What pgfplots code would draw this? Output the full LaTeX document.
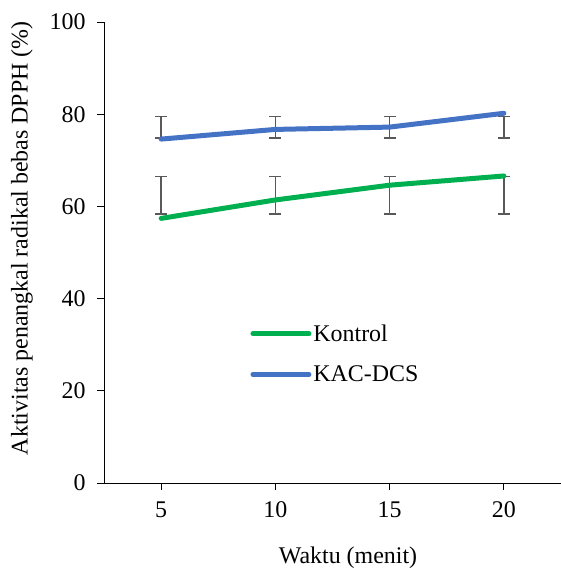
\documentclass[border=0pt]{standalone}
\usepackage{fontspec}
\setmainfont{Liberation Serif}
\usepackage{pgfplots}
\pgfplotsset{compat=1.18}
\definecolor{kgreen}{HTML}{00B050}
\definecolor{kblue}{HTML}{4472C4}
\definecolor{ebar}{HTML}{595959}
\begin{document}
\begin{tikzpicture}
\useasboundingbox (-104bp,-85bp) rectangle (457bp,483bp);
\begin{axis}[
  at={(0,0)}, anchor=south west,
  scale only axis,
  width=457bp, height=461bp,
  xmin=-0.5, xmax=3.5,
  ymin=0, ymax=100,
  xtick={0,1,2,3},
  xticklabels={5,10,15,20},
  ytick={0,20,40,60,80,100},
  axis x line*=bottom,
  axis y line*=left,
  axis line style={black, line width=0.9bp, -},
  tick style={black, line width=0.9bp},
  tick align=outside,
  major tick length=7bp,
  /pgf/number format/assume math mode=true,
  font=\fontsize{24}{28}\selectfont,
  ticklabel style={font=\fontsize{24}{28}\selectfont},
  xticklabel style={anchor=base, yshift=-27bp},
  yticklabel style={anchor=east, xshift=-8bp},
  xlabel={Waktu (menit)},
  ylabel={Aktivitas penangkal radikal bebas DPPH (\%)},
  xlabel style={at={(axis description cs:0.534,0)}, anchor=base, yshift=-80bp, font=\fontsize{24}{28}\selectfont},
  ylabel style={at={(axis description cs:-0.1794,0.531)}, anchor=center, rotate=0, font=\fontsize{24}{28}\selectfont},
  clip=false,
  legend cell align=left,
  legend style={at={(axis description cs:0.32,0.348)}, anchor=north west, draw=none, fill=none,
    font=\fontsize{24}{28}\selectfont, row sep=19bp, inner sep=0pt,
    /tikz/every even column/.append style={column sep=2bp}},
  legend image code/.code={\draw[#1, line cap=round] (0bp,0bp) -- (56bp,0bp);},
]
% error bars (as shown in the reference)
\addplot[only marks, mark=text, text mark={}, forget plot,
  error bars/.cd, y dir=both, y explicit,
  error bar style={color=ebar, line width=1.6bp},
  error mark options={rotate=90, mark size=6bp, color=ebar, line width=1.6bp}]
  coordinates {(0,77.2) +- (0,2.3) (1,77.2) +- (0,2.3) (2,77.2) +- (0,2.3) (3,77.2) +- (0,2.3)};
\addplot[only marks, mark=text, text mark={}, forget plot,
  error bars/.cd, y dir=both, y explicit,
  error bar style={color=ebar, line width=1.6bp},
  error mark options={rotate=90, mark size=6bp, color=ebar, line width=1.6bp}]
  coordinates {(0,62.4) +- (0,4.05) (1,62.4) +- (0,4.05) (2,62.4) +- (0,4.05) (3,62.4) +- (0,4.05)};
\addplot[kgreen, line width=5bp, line cap=round, line join=round, mark=none]
  coordinates {(0,57.4) (1,61.4) (2,64.6) (3,66.6)};
\addlegendentry{Kontrol}
\addplot[kblue, line width=5bp, line cap=round, line join=round, mark=none]
  coordinates {(0,74.6) (1,76.7) (2,77.2) (3,80.2)};
\addlegendentry{KAC-DCS}
\end{axis}
\end{tikzpicture}
\end{document}
